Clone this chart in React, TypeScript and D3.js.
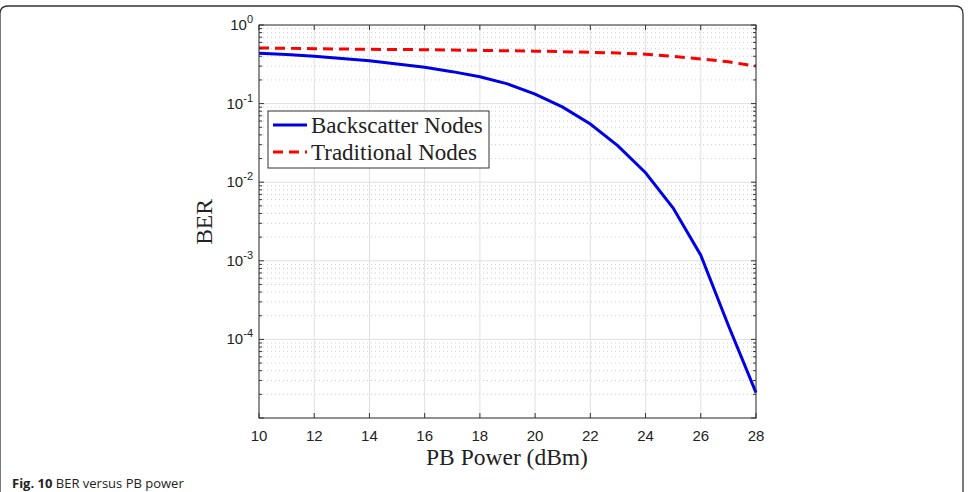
import React from 'react';
import * as d3 from 'd3';

const powerDbm = [10, 11, 12, 13, 14, 15, 16, 17, 18, 19, 20, 21, 22, 23, 24, 25, 26, 27, 28];
const backscatterBer = [0.436, 0.42, 0.40, 0.375, 0.35, 0.32, 0.29, 0.255, 0.22, 0.178, 0.132, 0.09, 0.055, 0.029, 0.0132, 0.0047, 0.00118, 0.00015, 0.000021];
const traditionalBer = [0.51, 0.505, 0.50, 0.495, 0.49, 0.488, 0.485, 0.48, 0.475, 0.47, 0.465, 0.458, 0.45, 0.44, 0.425, 0.40, 0.37, 0.34, 0.30];
const xTicks = [10, 12, 14, 16, 18, 20, 22, 24, 26, 28];
const yDecades = [0, -1, -2, -3, -4];
const seriesNames = ['Backscatter Nodes', 'Traditional Nodes'];

const W = 974;
const H = 492;
const left = 259, right = 756, top = 25, bottom = 418;

export default function App() {
  const x = d3.scaleLinear().domain([10, 28]).range([left, right]);
  const y = d3.scaleLog().domain([1e-5, 1]).range([bottom, top]);

  const line = d3.line<number>()
    .x((d, i) => x(powerDbm[i]))
    .y(d => y(d));

  // minor ticks 2..9 in each decade
  const minor: number[] = [];
  for (let e = -5; e < 0; e++) {
    for (let m = 2; m <= 9; m++) minor.push(m * Math.pow(10, e));
  }
  const major = [1e-5, 1e-4, 1e-3, 1e-2, 1e-1, 1];

  const tickFont = '"Liberation Sans", Arial, sans-serif';
  const serif = '"Liberation Serif", "DejaVu Serif", serif';

  return (
    <svg width={W} height={H} style={{ position: 'absolute', left: 0, top: 0, background: '#fff' }}>
      {/* outer frame */}
      <path d={`M0,${H} L0,14 Q0,6 8,6 L955,6 Q963,6 963,14 L963,${H}`} fill="none" stroke="#333" strokeWidth={1.3} />

      {/* minor grid */}
      {minor.map(v => (
        <line key={'mg' + v} x1={left} x2={right} y1={y(v)} y2={y(v)} stroke="#cfcfcf" strokeWidth={1} strokeDasharray="1,3" />
      ))}
      {/* major grid */}
      {major.map(v => (
        <line key={'Mg' + v} x1={left} x2={right} y1={y(v)} y2={y(v)} stroke="#e0e0e0" strokeWidth={1} />
      ))}
      {xTicks.map(t => (
        <line key={'xg' + t} x1={x(t)} x2={x(t)} y1={top} y2={bottom} stroke="#e0e0e0" strokeWidth={1} />
      ))}

      {/* curves */}
      <path d={line(backscatterBer) || ''} fill="none" stroke="#0000e6" strokeWidth={3} />
      <path d={line(traditionalBer) || ''} fill="none" stroke="#ff0000" strokeWidth={3} strokeDasharray="10,6" />

      {/* axes box */}
      <rect x={left} y={top} width={right - left} height={bottom - top} fill="none" stroke="#333" strokeWidth={1} />
      {xTicks.map(t => (
        <g key={'xt' + t}>
          <line x1={x(t)} x2={x(t)} y1={bottom} y2={bottom - 5} stroke="#333" />
          <line x1={x(t)} x2={x(t)} y1={top} y2={top + 5} stroke="#333" />
          <text x={x(t)} y={441} textAnchor="middle" fontFamily={tickFont} fontSize={15} fill="#222">{t}</text>
        </g>
      ))}
      {major.map(v => (
        <g key={'yt' + v}>
          <line x1={left} x2={left + 5} y1={y(v)} y2={y(v)} stroke="#333" />
          <line x1={right} x2={right - 5} y1={y(v)} y2={y(v)} stroke="#333" />
        </g>
      ))}
      {minor.map(v => (
        <g key={'ymt' + v}>
          <line x1={left} x2={left + 3} y1={y(v)} y2={y(v)} stroke="#333" />
          <line x1={right} x2={right - 3} y1={y(v)} y2={y(v)} stroke="#333" />
        </g>
      ))}
      {yDecades.map(e => (
        <text key={'yl' + e} x={253} y={y(Math.pow(10, e)) + 5} textAnchor="end" fontFamily={tickFont} fontSize={15} fill="#222">
          10<tspan dy={-7} fontSize={11}>{e}</tspan>
        </text>
      ))}

      {/* axis labels */}
      <text x={507} y={465} textAnchor="middle" fontFamily={serif} fontSize={23.5} fill="#222">PB Power (dBm)</text>
      <text transform={`translate(212,222) rotate(-90)`} textAnchor="middle" fontFamily={serif} fontSize={23.5} fill="#222">BER</text>

      {/* legend */}
      <rect x={268} y={111} width={221} height={57} fill="#fff" stroke="#333" strokeWidth={1} />
      <line x1={273} x2={307} y1={125} y2={125} stroke="#0000e6" strokeWidth={3} />
      <line x1={273} x2={307} y1={152} y2={152} stroke="#ff0000" strokeWidth={3} strokeDasharray="10,6" />
      <text x={311} y={132.5} fontFamily={serif} fontSize={23} fill="#222">{seriesNames[0]}</text>
      <text x={311} y={159.5} fontFamily={serif} fontSize={23} fill="#222">{seriesNames[1]}</text>

      {/* caption */}
      <text x={12} y={488} fontFamily='"Open Sans", "Noto Sans", sans-serif' fontSize={13} fill="#222">
        <tspan fontWeight="bold">Fig. 10</tspan> BER versus PB power
      </text>
    </svg>
  );
}
